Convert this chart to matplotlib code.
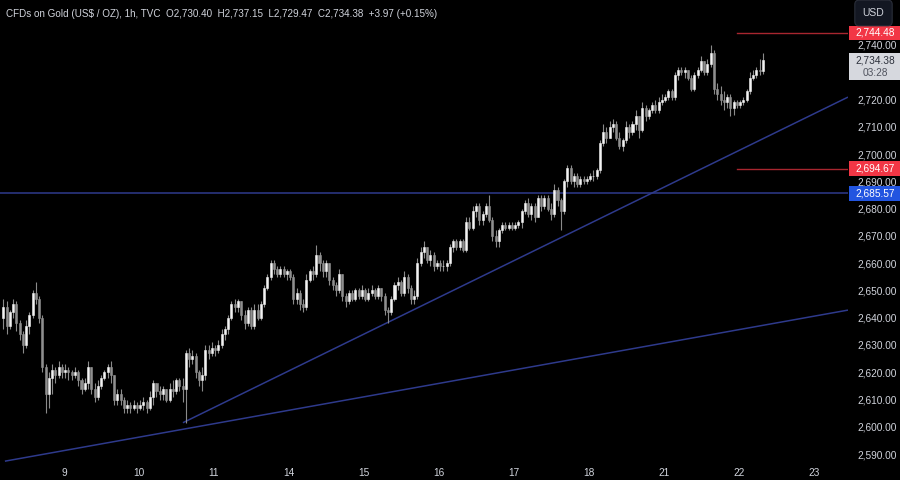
import matplotlib
matplotlib.use('Agg')
import matplotlib.pyplot as plt
import matplotlib.transforms as mtransforms
from matplotlib.patches import Rectangle
import numpy as np

plt.rcParams['font.family'] = ['Liberation Sans', 'DejaVu Sans']

# ---------------- data ----------------
title = "CFDs on Gold (US$ / OZ), 1h, TVC"
ohlc_text = "O2,730.40  H2,737.15  L2,729.47  C2,734.38  +3.97 (+0.15%)"
last_time_left = "03:28"

first_open = 2640.0
closes = [
    # Oct 8
    2644, 2637, 2642, 2645, 2638, 2634, 2630, 2637, 2641, 2649, 2647, 2640, 2622, 2612, 2618, 2621, 2619, 2622, 2620, 2621,
    # Oct 9
    2620, 2619, 2620, 2617, 2614, 2616, 2622, 2614, 2611, 2615, 2618, 2620, 2622, 2619, 2610, 2612, 2610, 2607, 2608, 2607, 2608, 2607, 2608,
    # Oct 10
    2609, 2607, 2611, 2616, 2613, 2612, 2614, 2610, 2614, 2613, 2617, 2615, 2614, 2627, 2625, 2626, 2620, 2617, 2619, 2628, 2627, 2629, 2628,
    # Oct 11
    2630, 2634, 2636, 2640, 2645, 2644, 2646, 2641, 2638, 2643, 2637, 2643, 2640, 2645, 2651, 2655, 2660, 2658, 2656, 2658, 2656, 2657, 2655,
    # Oct 14
    2647, 2649, 2645, 2644, 2654, 2657, 2656, 2663, 2660, 2657, 2660, 2654, 2652, 2650, 2656, 2648, 2646, 2649, 2647, 2650, 2648, 2650, 2647,
    # Oct 15
    2649, 2650, 2648, 2651, 2648, 2643, 2642, 2647, 2652, 2653, 2649, 2655, 2651, 2647, 2648, 2660, 2664, 2666, 2661, 2663, 2659, 2660, 2659,
    # Oct 16
    2659, 2660, 2666, 2668, 2666, 2668, 2665, 2675, 2673, 2679, 2681, 2676, 2678, 2681, 2676, 2670, 2668, 2672, 2674, 2673, 2674, 2673, 2674,
    # Oct 17
    2675, 2679, 2682, 2678, 2681, 2677, 2684, 2681, 2684, 2680, 2678, 2687, 2683, 2679, 2690, 2695, 2690, 2692, 2689, 2691, 2690, 2691, 2692,
    # Oct 18
    2692, 2694, 2704, 2708, 2706, 2710, 2711, 2706, 2703, 2705, 2710, 2708, 2711, 2714, 2709, 2717, 2714, 2716, 2718, 2716, 2719, 2720, 2721,
    # Oct 21
    2723, 2721, 2729, 2731, 2730, 2731, 2728, 2724, 2729, 2731, 2734, 2730, 2733, 2737, 2724, 2722, 2720, 2719, 2721, 2717, 2719, 2718, 2719,
    # Oct 22
    2720, 2723, 2728, 2729, 2731, 2730.40, 2734.38,
]
highs = [
    2647, 2646, 2643, 2647, 2646, 2639, 2635, 2639, 2642, 2650, 2653, 2648, 2641, 2623, 2620, 2623, 2622, 2624, 2623, 2623,
    2622, 2621, 2622, 2621, 2618, 2618, 2624, 2622, 2616, 2617, 2619, 2621, 2623, 2624, 2619, 2614, 2614, 2611, 2610, 2609, 2610, 2609, 2610,
    2611, 2610, 2613, 2617, 2616, 2615, 2615, 2614, 2616, 2617, 2618, 2618, 2618, 2628, 2629, 2628, 2627, 2621, 2622, 2630, 2630, 2631, 2630,
    2632, 2636, 2637, 2641, 2646, 2647, 2647, 2646, 2643, 2644, 2644, 2645, 2645, 2646, 2652, 2656, 2661, 2661, 2659, 2659, 2659, 2658, 2658,
    2656, 2651, 2650, 2647, 2656, 2658, 2659, 2666.5, 2664, 2661, 2661, 2660, 2655, 2653, 2658, 2656, 2649, 2650, 2650, 2651, 2651, 2652, 2651,
    2651, 2652, 2651, 2652, 2651, 2649, 2644, 2648, 2653, 2655, 2654, 2657, 2656, 2652, 2650, 2662, 2666, 2668, 2666, 2665, 2664, 2661, 2661,
    2661, 2661, 2667, 2669, 2669, 2669, 2669, 2677, 2677, 2681, 2682, 2682, 2679, 2682, 2685, 2677, 2672, 2673, 2675, 2675, 2675, 2675, 2675,
    2676, 2680, 2683, 2684, 2682, 2682, 2685, 2685, 2685, 2685, 2682, 2689, 2688, 2684, 2691, 2696, 2696, 2693, 2693, 2692, 2692, 2692, 2693,
    2694, 2695, 2705, 2711, 2710, 2712, 2713, 2712, 2708, 2706, 2712, 2711, 2712, 2716, 2714, 2719, 2718, 2717, 2719, 2720, 2721, 2722, 2722,
    2724, 2724, 2730, 2732, 2732, 2732, 2731, 2729, 2730, 2732, 2736, 2734, 2735, 2740, 2738, 2726, 2725, 2723, 2722, 2722, 2720, 2720, 2720,
    2721, 2724, 2730, 2731, 2732, 2735, 2737.15,
]
lows = [
    2636, 2634, 2636, 2640, 2635, 2632, 2627, 2629, 2634, 2640, 2645, 2638, 2620, 2605, 2607, 2612, 2616, 2618, 2618, 2618,
    2617, 2617, 2618, 2615, 2612, 2613, 2614, 2612, 2609, 2610, 2614, 2617, 2618, 2616, 2608, 2608, 2608, 2605, 2605, 2605, 2606, 2605, 2606,
    2606, 2605, 2606, 2608, 2611, 2610, 2610, 2609, 2609, 2611, 2612, 2613, 2609, 2601.5, 2622, 2623, 2618, 2615, 2613, 2617, 2625, 2626, 2626,
    2627, 2629, 2632, 2634, 2639, 2642, 2642, 2639, 2636, 2637, 2636, 2636, 2639, 2639, 2644, 2650, 2654, 2656, 2655, 2655, 2655, 2654, 2654,
    2645, 2645, 2643, 2642, 2643, 2653, 2654, 2655, 2657, 2655, 2655, 2652, 2650, 2648, 2649, 2646, 2644, 2645, 2646, 2646, 2647, 2647, 2646,
    2646, 2648, 2647, 2647, 2646, 2641, 2638, 2641, 2646, 2650, 2648, 2648, 2649, 2645, 2645, 2647, 2659, 2662, 2660, 2659, 2657, 2658, 2657,
    2657, 2657, 2659, 2664, 2665, 2665, 2664, 2664, 2672, 2672, 2677, 2674, 2674, 2677, 2675, 2668, 2666, 2666, 2671, 2672, 2672, 2672, 2672,
    2673, 2673, 2678, 2677, 2676, 2675, 2677, 2679, 2680, 2679, 2676, 2677, 2681, 2672, 2678, 2688, 2689, 2688, 2688, 2688, 2689, 2689, 2690,
    2690, 2691, 2693, 2703, 2704, 2706, 2708, 2705, 2702, 2701, 2704, 2706, 2707, 2709, 2706, 2708, 2712, 2713, 2715, 2715, 2715, 2718, 2719,
    2720, 2720, 2720, 2727, 2729, 2728, 2727, 2723, 2723, 2728, 2730, 2729, 2729, 2732, 2722, 2720, 2718, 2716, 2717, 2714, 2714.5, 2717, 2717,
    2718, 2719, 2722, 2727, 2728, 2729, 2729.47,
]
day_labels = ['9', '10', '11', '14', '15', '16', '17', '18', '21', '22', '23']
price_ticks = list(range(2590, 2741, 10))

level_red_top = 2744.48
level_red_mid = 2694.67
level_blue = 2685.57
trend_support_1 = [(55.1, 2601.5), (259.1, 2720.9)]
trend_support_2 = [(0.5, 2587.4), (259.1, 2642.8)]
red_level_start = 225.2

# ---------------- style ----------------
BG = '#000000'
TXT = '#d1d4dc'
UP = '#f2f2f2'
DOWN = '#8f8f8f'
WICK = '#8a8a8a'
NAVY = '#2e3a8c'
RED_LINE = '#a8262f'
RED_BOX = '#f23645'
BLUE_BOX = '#2255e0'

fig = plt.figure(figsize=(9, 4.8), dpi=100, facecolor=BG)
ax = fig.add_axes([0, 18 / 480, 848 / 900, 462 / 480])
ax.set_facecolor(BG)
for s in ax.spines.values():
    s.set_visible(False)

c = np.array(closes, dtype=float)
o = np.concatenate([[first_open], c[:-1]])
h = np.maximum(np.array(highs, dtype=float), np.maximum(o, c))
l = np.minimum(np.array(lows, dtype=float), np.minimum(o, c))
x = np.arange(len(c))
up = c >= o

ax.vlines(x, l, h, color=WICK, lw=0.8, zorder=3)
ax.bar(x[up], (c - o)[up], bottom=o[up], width=0.62, color=UP, edgecolor=UP, lw=0.4, zorder=4)
ax.bar(x[~up], (c - o)[~up], bottom=o[~up], width=0.62, color=DOWN, edgecolor=DOWN, lw=0.4, zorder=4)

xmin, xmax = -1.0, 259.1
ax.set_xlim(xmin, xmax)
ax.set_ylim(2587.1, 2756.5)

# trend lines and levels
for (x0, y0), (x1, y1) in (trend_support_1, trend_support_2):
    ax.plot([x0, x1], [y0, y1], color=NAVY, lw=1.1, zorder=2, solid_capstyle='butt')
ax.axhline(level_blue, color=NAVY, lw=1.1, zorder=2)
for lv in (level_red_top, level_red_mid):
    ax.plot([red_level_start, xmax], [lv, lv], color=RED_LINE, lw=1.0, zorder=2)

# axes ticks (the 2,730 label sits under the live-price tag, so it is left blank)
ax.yaxis.tick_right()
ax.set_yticks(price_ticks)
ax.set_yticklabels(['' if p == 2730 else f"{p:,.2f}" for p in price_ticks])
ax.tick_params(axis='y', length=0, pad=6.5, labelcolor=TXT, labelsize=7.3)
day_pos = [18.6 + 23 * k for k in range(len(day_labels))]
ax.set_xticks(day_pos)
ax.set_xticklabels(day_labels)
ax.tick_params(axis='x', length=0, pad=4, labelcolor=TXT, labelsize=7.3)

# price labels on the right scale
bt = mtransforms.blended_transform_factory(ax.transAxes, ax.transData)
ppx = 462 / (2756.5 - 2587.1)  # pixels per price unit
bx0 = 1.0 + 1 / 848
bw = 52 / 848


def price_box(price, text, fc, tc):
    hh = 7.2 / ppx
    ax.add_patch(Rectangle((bx0, price - hh), bw, 2 * hh, transform=bt, clip_on=False,
                           facecolor=fc, edgecolor='none', zorder=10))
    ax.text(bx0 + bw / 2, price, text, transform=bt, ha='center', va='center',
            color=tc, fontsize=7.3, zorder=11, clip_on=False)


price_box(level_red_top, f"{level_red_top:,.2f}", RED_BOX, '#ffffff')
price_box(level_red_mid, f"{level_red_mid:,.2f}", RED_BOX, '#ffffff')
price_box(level_blue, f"{level_blue:,.2f}", BLUE_BOX, '#ffffff')

last = closes[-1]
ax.add_patch(Rectangle((bx0, last - 20 / ppx), bw, 27 / ppx, transform=bt, clip_on=False,
                       facecolor='#d6d8de', edgecolor='none', zorder=10))
ax.text(bx0 + bw / 2, last, f"{last:,.2f}", transform=bt, ha='center', va='center',
        color='#2a2e39', fontsize=7.3, zorder=11, clip_on=False)
ax.text(bx0 + bw / 2, last - 13 / ppx, last_time_left, transform=bt, ha='center', va='center',
        color='#50535e', fontsize=7.3, zorder=11, clip_on=False)

# header
fig.text(6 / 900, 1 - 14 / 480, title + "  " + ohlc_text, color=TXT, fontsize=7.1,
         ha='left', va='center')
fig.text(873.5 / 900, 1 - 13 / 480, "USD", color=TXT, fontsize=7.5, ha='center', va='center',
         bbox=dict(boxstyle='round,pad=0.75,rounding_size=0.4', fc='#131722', ec='#2a2e39', lw=0.8))

fig.savefig('out.png', dpi=100, facecolor=BG)
